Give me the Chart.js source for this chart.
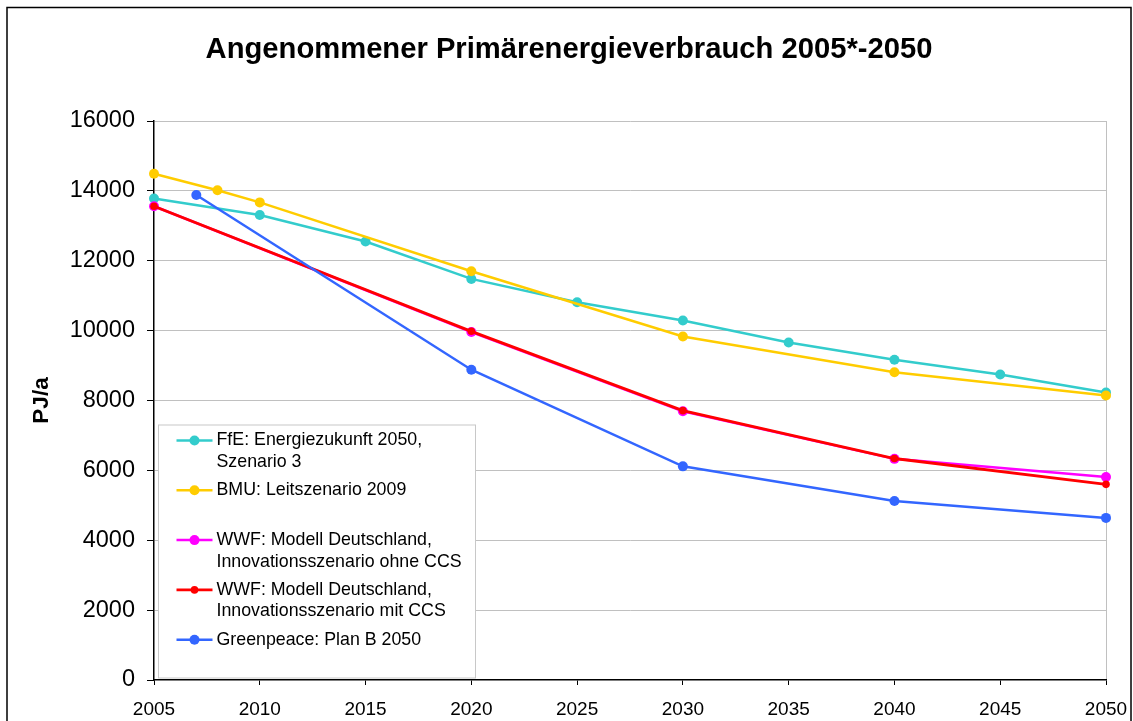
<!DOCTYPE html>
<html><head><meta charset="utf-8">
<script src="https://cdn.jsdelivr.net/npm/chart.js@4/dist/chart.umd.min.js"></script>
<style>html,body{margin:0;padding:0;background:#fff;}canvas{display:block;}</style>
</head><body>
<canvas id="c" width="1133" height="721"></canvas>
<script>
const titleText = 'Angenommener Primärenergieverbrauch 2005*-2050';
const yAxisTitle = 'PJ/a';

const ffeLabel = ['FfE: Energiezukunft 2050,', 'Szenario 3'];
const ffeYears  = [2005, 2010, 2015, 2020, 2025, 2030, 2035, 2040, 2045, 2050];
const ffeValues = [13780, 13310, 12550, 11480, 10810, 10290, 9660, 9165, 8745, 8230];

const bmuLabel = ['BMU: Leitszenario 2009'];
const bmuYears  = [2005, 2008, 2010, 2020, 2030, 2040, 2050];
const bmuValues = [14490, 14020, 13670, 11700, 9830, 8810, 8145];

const wwfOhneLabel = ['WWF: Modell Deutschland,', 'Innovationsszenario ohne CCS'];
const wwfOhneYears  = [2005, 2020, 2030, 2040, 2050];
const wwfOhneValues = [13560, 9960, 7690, 6330, 5810];

const wwfMitLabel = ['WWF: Modell Deutschland,', 'Innovationsszenario mit CCS'];
const wwfMitYears  = [2005, 2020, 2030, 2040, 2050];
const wwfMitValues = [13560, 9980, 7710, 6340, 5600];

const gpLabel = ['Greenpeace: Plan B 2050'];
const gpYears  = [2007, 2020, 2030, 2040, 2050];
const gpValues = [13880, 8880, 6115, 5125, 4640];

const FONT = "Arial, 'Liberation Sans', sans-serif";

function pts(xs, ys) { return xs.map((x, i) => ({x: x, y: ys[i]})); }

function ds(label, xs, ys, color, lw, r, order) {
  return {
    label: label, data: pts(xs, ys),
    borderColor: color, backgroundColor: color,
    pointBackgroundColor: color, pointBorderColor: color,
    borderWidth: lw, pointRadius: r, pointBorderWidth: 0, pointHoverRadius: r,
    tension: 0, clip: false, order: order
  };
}

const frame = {
  id: 'frame',
  beforeDraw(chart) {
    const c = chart.ctx;
    c.save();
    c.fillStyle = '#fff';
    c.fillRect(0, 0, chart.width, chart.height);
    c.strokeStyle = '#000';
    c.lineWidth = 1.5;
    c.strokeRect(7, 7.5, 1124, 800);
    c.font = 'bold 29.2px ' + FONT;
    c.fillStyle = '#000';
    c.textAlign = 'center';
    c.textBaseline = 'middle';
    c.fillText(titleText, 569, 50);
    c.restore();
  }
};

const boxLegend = {
  id: 'boxLegend',
  afterDatasetsDraw(chart) {
    const c = chart.ctx;
    const a = chart.chartArea;
    const bx = a.left + 4.5, by = 425, bw = 317, bh = 253;
    c.save();
    c.fillStyle = '#fff';
    c.fillRect(bx, by, bw, bh);
    c.strokeStyle = '#C8C8C8';
    c.lineWidth = 1;
    c.strokeRect(bx, by, bw, bh);
    c.font = '17.8px ' + FONT;
    c.textBaseline = 'middle';
    c.textAlign = 'left';
    chart.data.datasets.forEach((d, i) => {
      const y0 = 440.5 + i * 49.8;
      c.strokeStyle = d.borderColor;
      c.lineWidth = d.borderWidth;
      c.beginPath(); c.moveTo(bx + 18, y0); c.lineTo(bx + 54, y0); c.stroke();
      c.fillStyle = d.borderColor;
      c.beginPath(); c.arc(bx + 36, y0, d.pointRadius, 0, Math.PI * 2); c.fill();
      c.fillStyle = '#000';
      const lines = Array.isArray(d.label) ? d.label : [d.label];
      lines.forEach((t, j) => c.fillText(t, bx + 58, y0 + j * 21.7));
    });
    c.restore();
  }
};

new Chart(document.getElementById('c'), {
  type: 'line',
  data: {
    datasets: [
      ds(ffeLabel, ffeYears, ffeValues, '#33CCCC', 2.5, 5, 4),
      ds(bmuLabel, bmuYears, bmuValues, '#FFCC00', 2.5, 5, 3),
      ds(wwfOhneLabel, wwfOhneYears, wwfOhneValues, '#FF00FF', 2.5, 5, 2),
      ds(wwfMitLabel, wwfMitYears, wwfMitValues, '#FF0000', 2.8, 3.8, 1),
      ds(gpLabel, gpYears, gpValues, '#3366FF', 2.5, 5, 0)
    ]
  },
  options: {
    responsive: false,
    animation: false,
    events: [],
    layout: { padding: { top: 121, left: 0, right: 27, bottom: 0 } },
    plugins: {
      legend: { display: false },
      tooltip: { enabled: false },
      title: { display: false }
    },
    scales: {
      x: {
        type: 'linear', min: 2005, max: 2050,
        afterFit(s) { s.height = 41; s.paddingLeft = 0; s.paddingRight = 0; },
        ticks: { stepSize: 5, color: '#000', padding: 13, maxRotation: 0,
                 font: { family: FONT, size: 19 }, callback: v => String(v) },
        grid: { color: ctx => (ctx.tick && ctx.tick.value === 2050) ? '#C0C0C0' : 'rgba(0,0,0,0)',
                tickColor: '#000', tickLength: 5, lineWidth: 1 },
        border: { color: '#000', width: 1.5 }
      },
      y: {
        min: 0, max: 16000,
        afterFit(s) { s.width = 154; s.paddingTop = 0; s.paddingBottom = 0; },
        ticks: { stepSize: 2000, color: '#000', padding: 12,
                 font: { family: FONT, size: 23.5 }, callback: v => String(v) },
        grid: { color: ctx => (ctx.tick && ctx.tick.value === 0) ? 'rgba(0,0,0,0)' : '#C0C0C0',
                tickColor: '#000', tickLength: 7, lineWidth: 1 },
        border: { color: '#000', width: 1.5 },
        title: { display: true, text: yAxisTitle, color: '#000',
                 font: { family: FONT, size: 22.5, weight: 'bold' },
                 padding: { top: 28.5, bottom: 0 } }
      }
    }
  },
  plugins: [frame, boxLegend]
});
</script>
</body></html>
